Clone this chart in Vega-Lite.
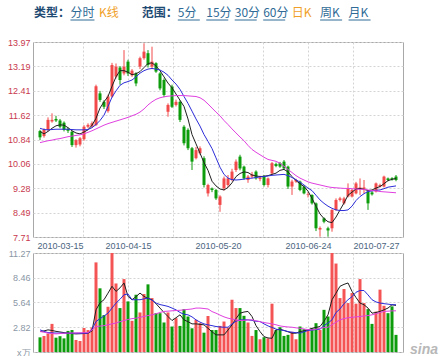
{
"$schema": "https://vega.github.io/schema/vega-lite/v6.json",
"background": "white",
"padding": {"left": 6, "top": 0, "right": 0, "bottom": 0},
"bounds": "flush",
"spacing": 16,
"config": {"view": {"stroke": "#a8a8a8"}, "font": "Liberation Sans"},
"datasets": {
"menu": [
{"w": "类型：", "s": 0, "g": "type", "k": "label"},
{"w": "分时", "s": 1, "g": "type", "k": "link"},
{"w": "K线", "s": 2, "g": "type", "k": "on"},
{"w": "范围：", "s": 4, "g": "range", "k": "label"},
{"w": "5分", "s": 5, "g": "range", "k": "link"},
{"w": "15分", "s": 6, "g": "range", "k": "link"},
{"w": "30分", "s": 7, "g": "range", "k": "link"},
{"w": "60分", "s": 8, "g": "range", "k": "link"},
{"w": "日K", "s": 9, "g": "range", "k": "on"},
{"w": "周K", "s": 10, "g": "range", "k": "link"},
{"w": "月K", "s": 11, "g": "range", "k": "link"}
],
"k": [
{"i":0,"o":11.11,"c":10.91,"h":11.15,"l":10.82,"v":1.67,"m5":11.10,"m10":11.20,"m30":10.74,"vm5":2.33,"vm10":2.52,"vm30":2.33},
{"i":1,"o":10.95,"c":11.15,"h":11.20,"l":10.90,"v":1.82,"m5":11.02,"m10":11.16,"m30":10.77,"vm5":2.40,"vm10":2.35,"vm30":2.25},
{"i":2,"o":11.15,"c":11.47,"h":11.55,"l":11.10,"v":2.10,"m5":11.10,"m10":11.15,"m30":10.80,"vm5":2.52,"vm10":2.21,"vm30":2.15},
{"i":3,"o":11.42,"c":11.47,"h":11.68,"l":11.38,"v":3.20,"m5":11.20,"m10":11.16,"m30":10.82,"vm5":2.45,"vm10":2.18,"vm30":2.10},
{"i":4,"o":11.50,"c":11.45,"h":11.60,"l":11.40,"v":1.63,"m5":11.28,"m10":11.17,"m30":10.85,"vm5":2.35,"vm10":2.16,"vm30":2.06},
{"i":5,"o":11.45,"c":11.25,"h":11.50,"l":11.20,"v":1.80,"m5":11.31,"m10":11.17,"m30":10.87,"vm5":2.28,"vm10":2.15,"vm30":2.10},
{"i":6,"o":11.38,"c":11.15,"h":11.42,"l":11.10,"v":1.55,"m5":11.30,"m10":11.17,"m30":10.90,"vm5":2.21,"vm10":2.14,"vm30":2.14},
{"i":7,"o":11.18,"c":11.12,"h":11.22,"l":11.05,"v":2.40,"m5":11.22,"m10":11.17,"m30":10.93,"vm5":2.15,"vm10":2.14,"vm30":2.15},
{"i":8,"o":11.09,"c":10.66,"h":11.12,"l":10.60,"v":2.50,"m5":11.12,"m10":11.16,"m30":10.95,"vm5":2.10,"vm10":2.14,"vm30":2.16},
{"i":9,"o":10.66,"c":10.82,"h":10.85,"l":10.58,"v":1.37,"m5":11.05,"m10":11.15,"m30":10.97,"vm5":2.06,"vm10":2.14,"vm30":2.17},
{"i":10,"o":10.68,"c":10.88,"h":10.92,"l":10.62,"v":1.25,"m5":11.02,"m10":11.15,"m30":10.99,"vm5":2.08,"vm10":2.14,"vm30":2.18},
{"i":11,"o":10.85,"c":11.25,"h":11.30,"l":10.80,"v":2.73,"m5":11.08,"m10":11.15,"m30":11.02,"vm5":2.10,"vm10":2.14,"vm30":2.19},
{"i":12,"o":11.25,"c":11.31,"h":11.36,"l":11.20,"v":2.50,"m5":11.15,"m10":11.16,"m30":11.07,"vm5":2.14,"vm10":2.14,"vm30":2.21},
{"i":13,"o":11.26,"c":11.36,"h":11.42,"l":11.22,"v":2.80,"m5":11.30,"m10":11.22,"m30":11.12,"vm5":2.40,"vm10":2.60,"vm30":2.50},
{"i":14,"o":11.30,"c":12.55,"h":12.60,"l":11.28,"v":10.20,"m5":11.52,"m10":11.32,"m30":11.18,"vm5":4.80,"vm10":3.47,"vm30":2.90},
{"i":15,"o":12.32,"c":12.11,"h":12.40,"l":12.05,"v":7.25,"m5":11.85,"m10":11.45,"m30":11.24,"vm5":5.60,"vm10":3.80,"vm30":2.95},
{"i":16,"o":12.05,"c":11.89,"h":12.10,"l":11.82,"v":4.20,"m5":12.05,"m10":11.62,"m30":11.30,"vm5":5.95,"vm10":4.10,"vm30":3.00},
{"i":17,"o":11.75,"c":12.22,"h":12.28,"l":11.70,"v":5.15,"m5":12.22,"m10":11.90,"m30":11.35,"vm5":6.70,"vm10":4.42,"vm30":3.09},
{"i":18,"o":12.22,"c":13.23,"h":13.30,"l":12.18,"v":11.27,"m5":12.55,"m10":12.20,"m30":11.39,"vm5":7.48,"vm10":5.00,"vm30":3.20},
{"i":19,"o":12.86,"c":13.18,"h":13.28,"l":12.80,"v":7.80,"m5":12.85,"m10":12.40,"m30":11.43,"vm5":6.90,"vm10":5.57,"vm30":3.30},
{"i":20,"o":13.15,"c":12.75,"h":13.20,"l":12.60,"v":5.00,"m5":13.05,"m10":12.58,"m30":11.47,"vm5":7.30,"vm10":6.00,"vm30":3.45},
{"i":21,"o":12.96,"c":13.18,"h":13.71,"l":12.90,"v":8.30,"m5":13.05,"m10":12.66,"m30":11.51,"vm5":7.86,"vm10":6.52,"vm30":3.58},
{"i":22,"o":13.34,"c":12.96,"h":13.40,"l":12.88,"v":5.76,"m5":13.00,"m10":12.70,"m30":11.55,"vm5":6.33,"vm10":6.60,"vm30":3.70},
{"i":23,"o":12.90,"c":13.05,"h":13.10,"l":12.85,"v":3.55,"m5":12.92,"m10":12.75,"m30":11.60,"vm5":5.95,"vm10":5.95,"vm30":3.80},
{"i":24,"o":12.96,"c":12.64,"h":13.00,"l":12.55,"v":6.52,"m5":12.95,"m10":12.85,"m30":11.65,"vm5":6.30,"vm10":5.95,"vm30":3.85},
{"i":25,"o":13.18,"c":13.45,"h":13.50,"l":13.10,"v":4.50,"m5":13.02,"m10":12.97,"m30":11.72,"vm5":6.71,"vm10":5.95,"vm30":3.95},
{"i":26,"o":13.45,"c":13.66,"h":13.93,"l":13.40,"v":6.60,"m5":13.15,"m10":13.05,"m30":11.82,"vm5":6.33,"vm10":6.05,"vm30":4.05},
{"i":27,"o":13.61,"c":13.23,"h":13.71,"l":13.15,"v":7.70,"m5":13.28,"m10":13.10,"m30":11.95,"vm5":6.10,"vm10":6.14,"vm30":4.15},
{"i":28,"o":13.18,"c":13.34,"h":13.82,"l":13.10,"v":6.14,"m5":13.30,"m10":13.12,"m30":12.05,"vm5":5.95,"vm10":5.90,"vm30":4.23},
{"i":29,"o":13.29,"c":13.02,"h":13.32,"l":12.98,"v":4.42,"m5":13.20,"m10":13.10,"m30":12.13,"vm5":5.50,"vm10":5.57,"vm30":4.35},
{"i":30,"o":12.96,"c":12.48,"h":13.00,"l":12.42,"v":4.42,"m5":13.05,"m10":13.07,"m30":12.18,"vm5":5.00,"vm10":5.40,"vm30":4.50},
{"i":31,"o":12.75,"c":12.27,"h":12.80,"l":12.20,"v":3.36,"m5":12.85,"m10":13.00,"m30":12.21,"vm5":4.50,"vm10":5.30,"vm30":4.62},
{"i":32,"o":11.73,"c":11.95,"h":12.00,"l":11.57,"v":4.50,"m5":12.65,"m10":12.90,"m30":12.23,"vm5":4.04,"vm10":5.19,"vm30":4.65},
{"i":33,"o":12.54,"c":11.89,"h":12.60,"l":11.85,"v":2.90,"m5":12.50,"m10":12.75,"m30":12.24,"vm5":3.58,"vm10":5.00,"vm30":4.69},
{"i":34,"o":11.95,"c":12.05,"h":12.12,"l":11.90,"v":3.85,"m5":12.30,"m10":12.62,"m30":12.25,"vm5":3.90,"vm10":4.80,"vm30":4.72},
{"i":35,"o":12.05,"c":11.47,"h":12.10,"l":11.40,"v":2.97,"m5":12.10,"m10":12.45,"m30":12.25,"vm5":4.23,"vm10":4.50,"vm30":4.75},
{"i":36,"o":11.25,"c":10.72,"h":11.30,"l":10.65,"v":4.88,"m5":11.90,"m10":12.22,"m30":12.25,"vm5":3.66,"vm10":4.30,"vm30":4.80},
{"i":37,"o":11.15,"c":10.56,"h":11.20,"l":10.50,"v":4.04,"m5":11.50,"m10":12.00,"m30":12.24,"vm5":3.45,"vm10":4.23,"vm30":4.85},
{"i":38,"o":10.56,"c":10.13,"h":10.60,"l":9.86,"v":2.70,"m5":11.00,"m10":11.75,"m30":12.23,"vm5":3.20,"vm10":4.00,"vm30":4.90},
{"i":39,"o":10.24,"c":10.50,"h":10.60,"l":10.20,"v":3.66,"m5":10.70,"m10":11.50,"m30":12.22,"vm5":3.20,"vm10":3.66,"vm30":5.00},
{"i":40,"o":10.40,"c":10.56,"h":10.62,"l":10.35,"v":3.28,"m5":10.40,"m10":11.27,"m30":12.18,"vm5":3.15,"vm10":3.40,"vm30":5.00},
{"i":41,"o":10.24,"c":9.38,"h":10.30,"l":9.30,"v":2.20,"m5":10.10,"m10":11.00,"m30":12.10,"vm5":3.09,"vm10":3.20,"vm30":4.95},
{"i":42,"o":9.11,"c":9.38,"h":9.42,"l":9.01,"v":4.10,"m5":9.85,"m10":10.78,"m30":11.98,"vm5":2.70,"vm10":3.09,"vm30":4.90},
{"i":43,"o":9.27,"c":9.22,"h":9.30,"l":9.15,"v":2.50,"m5":9.50,"m10":10.55,"m30":11.85,"vm5":2.30,"vm10":3.00,"vm30":4.60},
{"i":44,"o":9.22,"c":8.95,"h":9.25,"l":8.90,"v":2.50,"m5":9.35,"m10":10.25,"m30":11.72,"vm5":1.95,"vm10":2.90,"vm30":4.42},
{"i":45,"o":8.74,"c":9.01,"h":9.05,"l":8.52,"v":2.97,"m5":9.25,"m10":9.95,"m30":11.60,"vm5":1.95,"vm10":2.85,"vm30":4.20},
{"i":46,"o":9.27,"c":9.59,"h":9.65,"l":9.20,"v":3.47,"m5":9.22,"m10":9.72,"m30":11.45,"vm5":1.95,"vm10":2.82,"vm30":4.00},
{"i":47,"o":9.38,"c":9.59,"h":9.70,"l":9.30,"v":2.78,"m5":9.30,"m10":9.60,"m30":11.32,"vm5":2.50,"vm10":2.82,"vm30":3.85},
{"i":48,"o":9.54,"c":9.81,"h":9.90,"l":9.50,"v":5.95,"m5":9.45,"m10":9.55,"m30":11.18,"vm5":3.09,"vm10":3.20,"vm30":3.75},
{"i":49,"o":9.86,"c":10.13,"h":10.20,"l":9.80,"v":5.00,"m5":9.65,"m10":9.54,"m30":11.05,"vm5":3.80,"vm10":3.50,"vm30":3.65},
{"i":50,"o":10.29,"c":9.91,"h":10.35,"l":9.85,"v":5.00,"m5":9.75,"m10":9.55,"m30":10.92,"vm5":4.42,"vm10":3.66,"vm30":3.58},
{"i":51,"o":9.97,"c":9.59,"h":10.00,"l":9.55,"v":4.12,"m5":9.80,"m10":9.57,"m30":10.80,"vm5":4.55,"vm10":3.66,"vm30":3.60},
{"i":52,"o":9.54,"c":9.65,"h":9.70,"l":9.45,"v":3.36,"m5":9.78,"m10":9.59,"m30":10.65,"vm5":4.62,"vm10":3.66,"vm30":3.65},
{"i":53,"o":9.65,"c":9.72,"h":9.80,"l":9.60,"v":1.83,"m5":9.70,"m10":9.60,"m30":10.52,"vm5":4.04,"vm10":3.60,"vm30":3.66},
{"i":54,"o":9.81,"c":9.59,"h":9.85,"l":9.55,"v":2.50,"m5":9.67,"m10":9.62,"m30":10.43,"vm5":3.00,"vm10":3.50,"vm30":3.55},
{"i":55,"o":9.57,"c":9.62,"h":9.68,"l":9.50,"v":1.45,"m5":9.65,"m10":9.64,"m30":10.35,"vm5":2.33,"vm10":3.47,"vm30":3.45},
{"i":56,"o":9.65,"c":9.38,"h":9.70,"l":9.33,"v":1.68,"m5":9.66,"m10":9.65,"m30":10.27,"vm5":1.75,"vm10":3.20,"vm30":3.35},
{"i":57,"o":9.38,"c":9.59,"h":9.62,"l":9.30,"v":1.56,"m5":9.68,"m10":9.67,"m30":10.20,"vm5":1.60,"vm10":2.97,"vm30":3.28},
{"i":58,"o":9.75,"c":10.08,"h":10.12,"l":9.70,"v":5.50,"m5":9.72,"m10":9.69,"m30":10.17,"vm5":1.56,"vm10":2.80,"vm30":3.20},
{"i":59,"o":10.05,"c":9.99,"h":10.10,"l":9.95,"v":2.50,"m5":9.76,"m10":9.70,"m30":10.14,"vm5":2.52,"vm10":2.60,"vm30":3.10},
{"i":60,"o":10.08,"c":9.97,"h":10.12,"l":9.93,"v":2.82,"m5":9.85,"m10":9.71,"m30":10.08,"vm5":2.60,"vm10":2.52,"vm30":2.97},
{"i":61,"o":10.13,"c":9.91,"h":10.18,"l":9.88,"v":1.83,"m5":9.88,"m10":9.72,"m30":9.98,"vm5":2.45,"vm10":2.45,"vm30":2.90},
{"i":62,"o":9.97,"c":9.33,"h":10.00,"l":9.25,"v":1.95,"m5":9.80,"m10":9.68,"m30":9.88,"vm5":2.30,"vm10":2.33,"vm30":2.85},
{"i":63,"o":9.33,"c":9.49,"h":9.55,"l":9.06,"v":2.30,"m5":9.65,"m10":9.62,"m30":9.78,"vm5":2.14,"vm10":2.25,"vm30":2.82},
{"i":64,"o":9.49,"c":9.54,"h":9.58,"l":9.45,"v":1.45,"m5":9.52,"m10":9.55,"m30":9.68,"vm5":2.14,"vm10":2.20,"vm30":2.75},
{"i":65,"o":9.49,"c":9.22,"h":9.52,"l":9.18,"v":2.90,"m5":9.42,"m10":9.47,"m30":9.60,"vm5":2.33,"vm10":2.14,"vm30":2.70},
{"i":66,"o":9.33,"c":9.11,"h":9.36,"l":9.08,"v":2.60,"m5":9.33,"m10":9.38,"m30":9.54,"vm5":2.40,"vm10":2.30,"vm30":2.62},
{"i":67,"o":9.06,"c":9.08,"h":9.15,"l":8.98,"v":2.50,"m5":9.18,"m10":9.28,"m30":9.48,"vm5":2.52,"vm10":2.44,"vm30":2.55},
{"i":68,"o":9.06,"c":8.79,"h":9.08,"l":8.75,"v":2.70,"m5":8.95,"m10":9.20,"m30":9.44,"vm5":2.70,"vm10":2.50,"vm30":2.52},
{"i":69,"o":8.79,"c":7.99,"h":8.82,"l":7.90,"v":3.28,"m5":8.70,"m10":9.05,"m30":9.41,"vm5":2.80,"vm10":2.55,"vm30":2.60},
{"i":70,"o":7.95,"c":8.00,"h":8.05,"l":7.72,"v":2.50,"m5":8.45,"m10":8.90,"m30":9.38,"vm5":2.90,"vm10":2.60,"vm30":2.70},
{"i":71,"o":8.31,"c":8.20,"h":8.34,"l":8.15,"v":4.80,"m5":8.30,"m10":8.79,"m30":9.35,"vm5":3.50,"vm10":3.00,"vm30":2.78},
{"i":72,"o":7.99,"c":7.92,"h":8.04,"l":7.72,"v":4.04,"m5":8.20,"m10":8.70,"m30":9.32,"vm5":4.23,"vm10":3.30,"vm30":2.82},
{"i":73,"o":7.99,"c":8.58,"h":8.60,"l":7.88,"v":11.27,"m5":8.17,"m10":8.63,"m30":9.30,"vm5":5.95,"vm10":3.66,"vm30":3.10},
{"i":74,"o":8.58,"c":8.90,"h":8.95,"l":8.55,"v":10.07,"m5":8.35,"m10":8.58,"m30":9.29,"vm5":6.70,"vm10":4.50,"vm30":3.40},
{"i":75,"o":8.90,"c":8.95,"h":9.00,"l":8.85,"v":6.14,"m5":8.58,"m10":8.56,"m30":9.28,"vm5":7.48,"vm10":4.90,"vm30":3.66},
{"i":76,"o":8.79,"c":8.95,"h":9.00,"l":8.75,"v":7.17,"m5":8.80,"m10":8.56,"m30":9.27,"vm5":7.70,"vm10":5.50,"vm30":3.80},
{"i":77,"o":9.01,"c":9.27,"h":9.43,"l":8.98,"v":5.57,"m5":9.05,"m10":8.58,"m30":9.27,"vm5":7.86,"vm10":5.95,"vm30":3.90},
{"i":78,"o":9.01,"c":9.22,"h":9.25,"l":8.98,"v":6.71,"m5":9.15,"m10":8.70,"m30":9.26,"vm5":6.90,"vm10":6.30,"vm30":3.95},
{"i":79,"o":9.11,"c":9.43,"h":9.48,"l":9.08,"v":5.50,"m5":9.25,"m10":8.88,"m30":9.25,"vm5":6.20,"vm10":6.80,"vm30":4.00},
{"i":80,"o":9.25,"c":9.30,"h":9.59,"l":9.06,"v":8.30,"m5":9.27,"m10":9.01,"m30":9.24,"vm5":5.57,"vm10":7.00,"vm30":4.04},
{"i":81,"o":9.25,"c":9.30,"h":9.54,"l":9.11,"v":5.57,"m5":9.24,"m10":9.10,"m30":9.24,"vm5":5.38,"vm10":7.00,"vm30":4.10},
{"i":82,"o":9.17,"c":8.79,"h":9.20,"l":8.58,"v":4.88,"m5":9.20,"m10":9.17,"m30":9.22,"vm5":5.00,"vm10":6.50,"vm30":4.15},
{"i":83,"o":9.14,"c":9.08,"h":9.18,"l":9.04,"v":3.20,"m5":9.22,"m10":9.19,"m30":9.20,"vm5":4.42,"vm10":5.95,"vm30":4.23},
{"i":84,"o":9.17,"c":9.43,"h":9.46,"l":9.14,"v":4.60,"m5":9.28,"m10":9.21,"m30":9.19,"vm5":4.50,"vm10":5.70,"vm30":4.35},
{"i":85,"o":9.33,"c":9.38,"h":9.42,"l":9.30,"v":7.10,"m5":9.33,"m10":9.22,"m30":9.17,"vm5":4.62,"vm10":5.57,"vm30":4.50},
{"i":86,"o":9.33,"c":9.65,"h":9.68,"l":9.30,"v":5.26,"m5":9.42,"m10":9.26,"m30":9.16,"vm5":4.80,"vm10":5.50,"vm30":4.62},
{"i":87,"o":9.59,"c":9.54,"h":9.62,"l":9.50,"v":4.42,"m5":9.52,"m10":9.31,"m30":9.15,"vm5":5.00,"vm10":5.45,"vm30":4.65},
{"i":88,"o":9.60,"c":9.56,"h":9.63,"l":9.52,"v":5.19,"m5":9.56,"m10":9.33,"m30":9.14,"vm5":5.38,"vm10":5.38,"vm30":4.68},
{"i":89,"o":9.65,"c":9.54,"h":9.70,"l":9.50,"v":1.95,"m5":9.59,"m10":9.35,"m30":9.13,"vm5":5.30,"vm10":5.38,"vm30":4.69}
]
},
"vconcat": [
{
"width": 370, "height": 26,
"view": {"stroke": null, "fill": "white"},
"data": {"name": "menu"},
"encoding": {
"x": {"field": "s", "type": "quantitative", "scale": {"domain": [0, 13], "nice": false, "zero": false}, "axis": null},
"text": {"field": "w"},
"color": {"field": "k", "type": "nominal", "scale": {"domain": ["label", "link", "on"], "range": ["#1d4a72", "#2f6b96", "#f0a028"]}, "legend": null}
},
"layer": [
{"transform": [{"filter": "datum.g == 'type' && datum.k == 'label'"}], "mark": {"type": "text", "align": "left", "dx": 1, "font": "Noto Sans CJK SC", "fontSize": 12, "fontWeight": "bold"}},
{"transform": [{"filter": "datum.g == 'type' && datum.k != 'label'"}], "mark": {"type": "text", "align": "left", "dx": 9, "font": "Noto Sans CJK SC", "fontSize": 12}},
{"transform": [{"filter": "datum.g == 'range' && datum.k == 'label'"}], "mark": {"type": "text", "align": "left", "dx": -5, "font": "Noto Sans CJK SC", "fontSize": 12, "fontWeight": "bold"}},
{"transform": [{"filter": "datum.g == 'range' && datum.k != 'label'"}], "mark": {"type": "text", "align": "left", "dx": 2.5, "font": "Noto Sans CJK SC", "fontSize": 12}},
{"transform": [{"filter": "datum.k == 'link' && datum.g == 'type'"}], "mark": {"type": "rule", "xOffset": 9, "x2Offset": 33, "yOffset": 7, "strokeWidth": 1},
"encoding": {"x2": {"field": "s"}}},
{"transform": [{"filter": "datum.k == 'link' && datum.g == 'range'"}], "mark": {"type": "rule", "xOffset": 2.5, "x2Offset": 24.5, "yOffset": 7, "strokeWidth": 1},
"encoding": {"x2": {"field": "s"}}}
]
},
{
"width": 370, "height": 195,
"data": {"name": "k"},
"encoding": {
"x": {"field": "i", "type": "quantitative", "scale": {"domain": [-0.5, 89.5], "nice": false, "zero": false},
"axis": {"title": null, "values": [10.75, 22, 33.25, 44.5, 55.75, 67, 78.25], "tickCount": 20, "grid": true, "gridColor": "#d4d4d4", "gridDash": [2, 2], "ticks": false, "domain": false, "labelPadding": 4, "labelFontSize": 9, "labelColor": "#4a6580", "labelFont": "Liberation Sans", "labelOverlap": false,
"labelExpr": "datum.value < 11 ? '2010-03-15' : datum.value < 23 ? '2010-04-15' : (datum.value > 44 && datum.value < 45) ? '2010-05-20' : (datum.value > 66 && datum.value < 68) ? '2010-06-24' : datum.value > 78 ? '2010-07-27' : ''",
"labelAlign": {"condition": [{"test": "datum.value < 11", "value": "right"}, {"test": "datum.value > 78", "value": "left"}], "value": "center"}}},
"color": {"condition": {"test": "datum.c >= datum.o", "value": "#f24a4a"}, "value": "#0c9c0c"}
},
"layer": [
{"mark": {"type": "rule", "strokeWidth": 1},
"encoding": {"y": {"field": "l", "type": "quantitative", "scale": {"domain": [7.71, 13.97], "nice": false, "zero": false},
"axis": {"title": null, "values": [7.71, 8.49, 9.28, 10.06, 10.84, 11.62, 12.41, 13.19, 13.97], "tickCount": 20, "format": ".2f", "grid": true, "gridColor": "#d4d4d4", "gridDash": [2, 2], "ticks": false, "domain": false, "labelPadding": 3, "labelFontSize": 9, "labelColor": "#c8384e", "labelFont": "Liberation Sans", "labelOverlap": false}},
"y2": {"field": "h"}}},
{"mark": {"type": "bar", "size": 3},
"encoding": {"y": {"field": "o", "type": "quantitative", "title": null, "scale": {"domain": [7.71, 13.97], "nice": false, "zero": false}}, "y2": {"field": "c"}}},
{"mark": {"type": "line", "color": "#202020", "strokeWidth": 1},
"encoding": {"y": {"field": "m5", "type": "quantitative", "title": null, "scale": {"domain": [7.71, 13.97], "nice": false, "zero": false}}, "color": {"value": "#202020"}}},
{"mark": {"type": "line", "color": "#2c2cd8", "strokeWidth": 1},
"encoding": {"y": {"field": "m10", "type": "quantitative", "title": null, "scale": {"domain": [7.71, 13.97], "nice": false, "zero": false}}, "color": {"value": "#2c2cd8"}}},
{"mark": {"type": "line", "color": "#e040e0", "strokeWidth": 1},
"encoding": {"y": {"field": "m30", "type": "quantitative", "title": null, "scale": {"domain": [7.71, 13.97], "nice": false, "zero": false}}, "color": {"value": "#e040e0"}}}
]
},
{
"width": 370, "height": 99,
"title": {"text": "sina", "orient": "right", "anchor": "end", "angle": 0, "align": "left", "baseline": "bottom", "offset": 6, "dx": -27, "fontSize": 14, "fontStyle": "italic", "fontWeight": "bold", "font": "Liberation Sans", "color": "#b8b8b8"},
"data": {"name": "k"},
"encoding": {
"x": {"field": "i", "type": "quantitative", "scale": {"domain": [-0.5, 89.5], "nice": false, "zero": false},
"axis": {"title": null, "values": [10.75, 22, 33.25, 44.5, 55.75, 67, 78.25], "tickCount": 20, "grid": true, "gridColor": "#d4d4d4", "gridDash": [2, 2], "ticks": false, "domain": false, "labels": false}}
},
"layer": [
{"mark": {"type": "bar", "size": 3},
"encoding": {"y": {"field": "v", "type": "quantitative", "scale": {"domain": [0, 11.27], "nice": false},
"axis": {"title": null, "values": [0, 2.82, 5.64, 8.46, 11.27], "tickCount": 20, "grid": true, "gridColor": "#d4d4d4", "gridDash": [2, 2], "ticks": false, "domain": false, "labelPadding": 3, "labelFontSize": 9, "labelColor": "#8a96a4", "labelFont": "Liberation Sans", "labelOverlap": false,
"labelExpr": "datum.value == 0 ? 'x万' : format(datum.value, '.2f')"}},
"color": {"condition": {"test": "datum.c >= datum.o", "value": "#f55454"}, "value": "#0c9c0c"}}},
{"mark": {"type": "line", "color": "#202020", "strokeWidth": 1},
"encoding": {"y": {"field": "vm5", "type": "quantitative", "title": null, "scale": {"domain": [0, 11.27], "nice": false}}}},
{"mark": {"type": "line", "color": "#2c2cd8", "strokeWidth": 1},
"encoding": {"y": {"field": "vm10", "type": "quantitative", "title": null, "scale": {"domain": [0, 11.27], "nice": false}}}},
{"mark": {"type": "line", "color": "#e040e0", "strokeWidth": 1},
"encoding": {"y": {"field": "vm30", "type": "quantitative", "title": null, "scale": {"domain": [0, 11.27], "nice": false}}}}
]
}
]
}
